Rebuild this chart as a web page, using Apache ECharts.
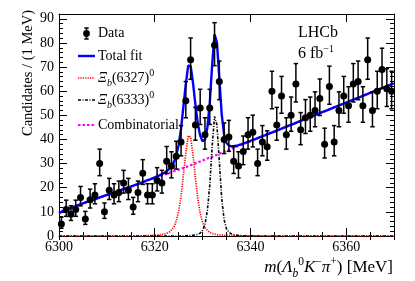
<!DOCTYPE html>
<html><head><meta charset="utf-8">
<script src="https://cdn.jsdelivr.net/npm/echarts@6/dist/echarts.min.js"></script>
<style>html,body{margin:0;padding:0;background:#fff}#c{width:415px;height:281px}</style>
</head><body><div id="c"></div>
<script>
// ---- data ----
const binLow = 6300;          // MeV, first bin low edge
const binWidth = 1;           // MeV
const counts = [5,11,9,11,16,7,15,17,30,10,19,17,18,22,19,12,18,26,17,17,
                23,22,31,29,33,39,56,73,46,53,42,53,79,64,40,41,31,29,35,42,
                43,30,39,37,60,46,58,42,50,63,44,49,50,52,57,38,62,39,52,58,
                54,63,64,54,73,52,60,69,61,60];
// fit curve sample masses
const fitMassLow = [6300,6301,6302,6303,6304,6305,6306,6307,6308,6309,6310,6311,6312,6313,6314,6315,6316,6317];
const fitMassPeak = [6318,6318.5,6319,6319.5,6320,6320.5,6321,6321.5,6322,6322.5,6323,6323.5,6324,6324.5,6325,6325.5,
  6326,6326.5,6327,6327.5,6328,6328.5,6329,6329.5,6330,6330.5,6331,6331.5,6332,6332.5,6333,6333.5,6334,6334.5,
  6335,6335.5,6336,6336.5,6337,6337.5,6338,6338.5,6339,6339.5,6340,6340.5,6341,6341.5,6342];
const fitMassHigh = [6343,6344,6345,6346,6347,6348,6349,6350,6351,6352,6353,6354,6355,6356,6357,6358,6359,6360,
  6361,6362,6363,6364,6365,6366,6367,6368,6369,6370];
// combinatorial background on the full sample grid
const fitBkg = [9.5,10.5,11.3,12,12.8,13.5,14.2,14.9,15.6,16.3,17,17.7,18.4,19.1,19.8,20.5,21.2,21.9,
  22.6,22.95,23.3,23.65,24,24.35,24.7,25.05,25.4,25.75,26.1,26.45,26.8,27.15,27.5,27.85,28.2,28.55,28.9,
  29.3,29.7,30.1,30.5,30.9,31.3,31.7,32.1,32.5,32.9,33.3,33.7,34.1,34.5,34.9,35.3,35.7,36.1,36.5,36.9,37.3,
  37.7,38.1,38.5,38.9,39.3,39.7,40.1,40.5,40.9,
  41.7,42.5,43.3,44.1,44.9,45.7,46.5,47.3,48.1,48.9,49.7,50.5,51.3,52.1,52.9,53.7,54.5,55.3,56.1,56.9,57.7,
  58.5,59.3,60.1,60.9,61.7,62.5,63.3];
// signal components on the peak window (fitMassPeak)
const fitXi6327 = [0.15,0.17,0.2,0.25,0.3,0.38,0.45,0.6,0.8,1.1,1.6,2.5,3.8,6.2,10.2,16.5,25.5,34.5,41.5,41,
  33.5,24,15.5,9.5,5.6,3.5,2.3,1.5,1.05,0.75,0.55,0.45,0.37,0.3,0.25,0.2,0.17,0.15,0.13,0.11,0.1,
  0.09,0.08,0.07,0.06,0.05,0.05,0.04,0.04];
const fitXi6333 = [0,0,0,0,0,0,0,0,0,0,0,0,0,0,0,0,0,
  0.1,0.15,0.2,0.3,0.45,0.7,1.2,2.3,4.8,10.5,21,37,49.5,46,31,15.5,6.8,3,1.6,0.9,0.55,0.35,0.25,0.18,0.13,0.1,
  0.08,0.06,0.05,0.04,0.03,0.03];
const yTicks = [0,10,20,30,40,50,60,70,80,90];
const xTicks = [6300,6320,6340,6360];

// ---- build ----
const FONT = 'Liberation Serif';
const binCenters = counts.map((_, i) => binLow + binWidth * (i + 0.5));
const fitMass = fitMassLow.concat(fitMassPeak, fitMassHigh);
const padL = fitMassLow.map(() => 0), padH = fitMassHigh.map(() => 0);
const sig1 = padL.concat(fitXi6327, padH);
const sig2 = padL.concat(fitXi6333, padH);
const total = fitMass.map((m, i) => fitBkg[i] + sig1[i] + sig2[i]);
const pts = arr => fitMass.map((m, i) => [m, arr[i]]);
const errData = counts.map((n, i) => {
  const s = Math.sqrt(n + 0.25);
  return [binCenters[i], n, n - (s - 0.5), n + (s + 0.5)];
});

const chart = echarts.init(document.getElementById('c'), null, {renderer: 'canvas'});
const black = '#000';
const baseX = {type: 'value', min: 6300, max: 6370, gridIndex: 0, splitLine: {show: false},
  axisLine: {show: true, onZero: false, lineStyle: {color: black, width: 1}}};
const baseY = {type: 'value', min: 0, max: 92, interval: 10, splitLine: {show: false},
  axisLine: {show: true, onZero: false, lineStyle: {color: black, width: 1}},
  axisTick: {show: true, inside: true, length: 8, lineStyle: {color: black}},
  minorTick: {show: true, splitNumber: 5, length: 4, lineStyle: {color: black}}};
const rich4 = (big, small, lh) => ({
  i: {fontFamily: FONT, fontSize: big, fontStyle: 'italic', lineHeight: lh, verticalAlign: 'middle'},
  n: {fontFamily: FONT, fontSize: big, lineHeight: lh, verticalAlign: 'middle'},
  s: {fontFamily: FONT, fontSize: small, fontStyle: 'italic', lineHeight: lh, verticalAlign: 'bottom'},
  p: {fontFamily: FONT, fontSize: small, lineHeight: lh, verticalAlign: 'top'}
});

chart.setOption({
  animation: false,
  backgroundColor: '#fff',
  grid: {left: 59, right: 21, top: 14, bottom: 45},
  xAxis: [
    Object.assign({}, baseX, {position: 'bottom', interval: 20,
      axisTick: {show: true, inside: true, length: 8, lineStyle: {color: black}},
      axisLabel: {show: true, margin: 4, color: black, fontSize: 14, fontFamily: FONT, showMaxLabel: false,
        formatter: v => xTicks.indexOf(v) >= 0 ? String(v) : ''}}),
    Object.assign({}, baseX, {position: 'bottom', interval: 5, axisLine: {show: false},
      axisTick: {show: true, inside: true, length: 4, lineStyle: {color: black}}, axisLabel: {show: false}}),
    Object.assign({}, baseX, {position: 'top', interval: 20,
      axisTick: {show: true, inside: true, length: 8, lineStyle: {color: black}}, axisLabel: {show: false}}),
    Object.assign({}, baseX, {position: 'top', interval: 5, axisLine: {show: false},
      axisTick: {show: true, inside: true, length: 4, lineStyle: {color: black}}, axisLabel: {show: false}})
  ],
  yAxis: [
    Object.assign({}, baseY, {position: 'left',
      axisLabel: {show: true, margin: 5, color: black, fontSize: 14, fontFamily: FONT, showMaxLabel: false,
        formatter: v => yTicks.indexOf(v) >= 0 ? String(v) : ''}}),
    Object.assign({}, baseY, {position: 'right', axisLabel: {show: false}})
  ],
  series: [
    {type: 'line', name: 'Combinatorial', data: pts(fitBkg), showSymbol: false, symbol: 'none',
      lineStyle: {color: '#ff00ff', width: 2.2, type: [2.5, 2]}, z: 2},
    {type: 'line', name: 'Xi6327', data: pts(sig1), symbol: 'none',
      lineStyle: {color: '#ff0000', width: 1.7, type: [1.2, 1.2]}, z: 2},
    {type: 'line', name: 'Xi6333', data: pts(sig2), symbol: 'none',
      lineStyle: {color: '#000', width: 1.6, type: [3, 1.5, 1, 1.5]}, z: 2},
    {type: 'line', name: 'Total fit', data: pts(total), symbol: 'none',
      lineStyle: {color: '#0000ff', width: 2.4}, z: 3},
    {type: 'custom', name: 'err', data: errData, z: 4,
      renderItem: (params, api) => {
        const x = api.value(0);
        const lo = api.coord([x, api.value(2)]);
        const hi = api.coord([x, api.value(3)]);
        const cw = 2.2;
        const st = {stroke: '#000', lineWidth: 1.5};
        return {type: 'group', children: [
          {type: 'line', shape: {x1: lo[0], y1: lo[1], x2: hi[0], y2: hi[1]}, style: st},
          {type: 'line', shape: {x1: lo[0] - cw, y1: lo[1], x2: lo[0] + cw, y2: lo[1]}, style: st},
          {type: 'line', shape: {x1: hi[0] - cw, y1: hi[1], x2: hi[0] + cw, y2: hi[1]}, style: st}
        ]};
      }},
    {type: 'scatter', name: 'Data', data: counts.map((n, i) => [binCenters[i], n]),
      symbol: 'circle', symbolSize: 7, itemStyle: {color: '#000', opacity: 1}, z: 5}
  ],
  graphic: [
    // y title
    {type: 'text', x: 28, y: 73, rotation: Math.PI / 2,
      style: {text: 'Candidates / (1 MeV)', font: '14.5px "Liberation Serif"', fill: '#000',
        align: 'center', verticalAlign: 'middle'}},
    // x title
    {type: 'text', right: 22, top: 256,
      style: {text: '{i|m}{n|(}{i|Λ}{s|b}{p|0}{i|K}{p|−}{i|π}{p|+}{n|) [MeV]}', fill: '#000',
        rich: rich4(17, 11.5, 24)}},
    // LHCb label
    {type: 'text', x: 298, y: 33,
      style: {text: 'LHCb', font: '16px "Liberation Serif"', fill: '#000', align: 'left', verticalAlign: 'middle'}},
    {type: 'text', x: 298, y: 44,
      style: {text: '{n|6 fb}{p|−1}', fill: '#000',
        rich: {n: {fontFamily: FONT, fontSize: 16, lineHeight: 20, verticalAlign: 'middle'},
               p: {fontFamily: FONT, fontSize: 10, lineHeight: 20, verticalAlign: 'top'}}}},
    // legend: Data
    {type: 'line', shape: {x1: 86.5, y1: 28, x2: 86.5, y2: 39}, style: {stroke: '#000', lineWidth: 1.5}},
    {type: 'line', shape: {x1: 84.3, y1: 28, x2: 88.7, y2: 28}, style: {stroke: '#000', lineWidth: 1.5}},
    {type: 'line', shape: {x1: 84.3, y1: 39, x2: 88.7, y2: 39}, style: {stroke: '#000', lineWidth: 1.5}},
    {type: 'circle', shape: {cx: 86.5, cy: 33.5, r: 3.4}, style: {fill: '#000'}},
    {type: 'text', x: 98, y: 33.5, style: {text: 'Data', font: '14px "Liberation Serif"', fill: '#000', verticalAlign: 'middle'}},
    // Total fit
    {type: 'line', shape: {x1: 78, y1: 56, x2: 95, y2: 56}, style: {stroke: '#0000ff', lineWidth: 2.4}},
    {type: 'text', x: 98, y: 56, style: {text: 'Total fit', font: '14px "Liberation Serif"', fill: '#000', verticalAlign: 'middle'}},
    // Xi_b(6327)
    {type: 'line', shape: {x1: 78, y1: 78, x2: 95, y2: 78}, style: {stroke: '#ff0000', lineWidth: 1.7, lineDash: [1.2, 1.2]}},
    {type: 'text', x: 98, y: 68, style: {text: '{i|Ξ}{s|b}{n|(6327)}{p|0}', fill: '#000', rich: rich4(14, 10, 20)}},
    // Xi_b(6333)
    {type: 'line', shape: {x1: 78, y1: 100, x2: 95, y2: 100}, style: {stroke: '#000', lineWidth: 1.6, lineDash: [3, 1.5, 1, 1.5]}},
    {type: 'text', x: 98, y: 90, style: {text: '{i|Ξ}{s|b}{n|(6333)}{p|0}', fill: '#000', rich: rich4(14, 10, 20)}},
    // Combinatorial
    {type: 'line', shape: {x1: 78, y1: 125, x2: 95, y2: 125}, style: {stroke: '#ff00ff', lineWidth: 2.2, lineDash: [2.5, 2]}},
    {type: 'text', x: 98, y: 125, style: {text: 'Combinatorial', font: '14px "Liberation Serif"', fill: '#000', verticalAlign: 'middle'}}
  ]
});
</script>
</body></html>
